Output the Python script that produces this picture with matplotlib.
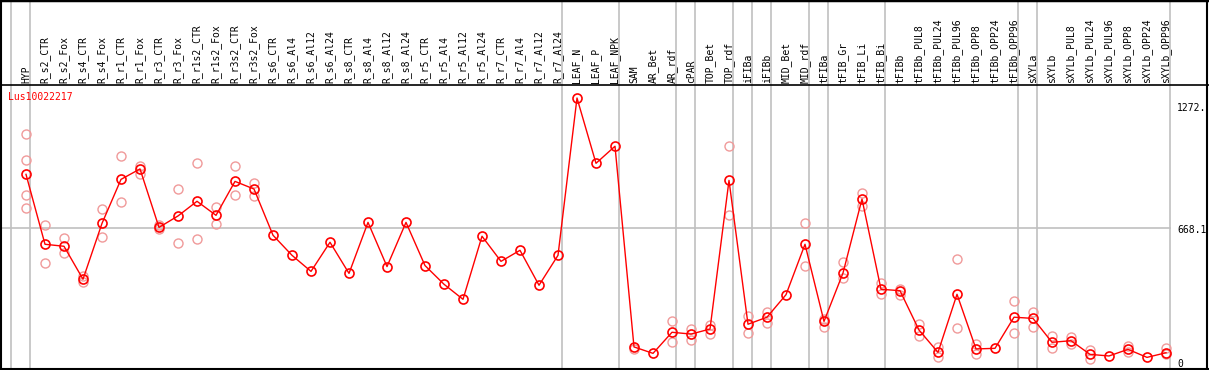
import matplotlib
matplotlib.use("Agg")
import matplotlib.pyplot as plt

# sample names along the top
samples = ["HYP", "R_s2_CTR", "R_s2_Fox", "R_s4_CTR", "R_s4_Fox", "R_r1_CTR", "R_r1_Fox",
           "R_r3_CTR", "R_r3_Fox", "R_r1s2_CTR", "R_r1s2_Fox", "R_r3s2_CTR", "R_r3s2_Fox",
           "R_s6_CTR", "R_s6_Al4", "R_s6_Al12", "R_s6_Al24", "R_s8_CTR", "R_s8_Al4",
           "R_s8_Al12", "R_s8_Al24", "R_r5_CTR", "R_r5_Al4", "R_r5_Al12", "R_r5_Al24",
           "R_r7_CTR", "R_r7_Al4", "R_r7_Al12", "R_r7_Al24", "LEAF_N", "LEAF_P", "LEAF_NPK",
           "SAM", "AR_Bet", "AR_rdf", "cPAR", "TOP_Bet", "TOP_rdf", "iFIBa", "iFIBb",
           "MID_Bet", "MID_rdf", "tFIBa", "tFIB_Gr", "tFIB_Li", "tFIB_Bi", "tFIBb",
           "tFIBb_PUL8", "tFIBb_PUL24", "tFIBb_PUL96", "tFIBb_OPP8", "tFIBb_OPP24",
           "tFIBb_OPP96", "sXYLa", "sXYLb", "sXYLb_PUL8", "sXYLb_PUL24", "sXYLb_PUL96",
           "sXYLb_OPP8", "sXYLb_OPP24", "sXYLb_OPP96"]

# mean expression per sample
means = [935, 587, 577, 413, 691, 910, 962, 671, 728, 801, 731, 900, 862,
         632, 532, 452, 597, 442, 696, 476, 696,
         481, 388, 313, 627, 502, 557, 383, 532,
         1315, 990, 1075,
         76, 44, 149, 140, 165, 905, 189, 224, 336, 587,
         203, 444, 812, 363, 356, 160, 49, 338, 66, 69, 224,
         218, 99, 107, 39, 31, 64, 24, 47]

# individual replicates (where they show apart from the mean)
replicates = [
    [1134, 1005, 831, 766], [681, 494], [618, 542], [429, 399], [761, 622],
    [1025, 796], [977, 937], [683, 661], [862, 592], [990, 612], [772, 689],
    [975, 831], [890, 829],
    [], [], [], [], [], [], [], [],
    [], [], [], [], [], [], [], [],
    [], [], [],
    [64], [], [205, 99], [167, 110], [184, 142], [1075, 734], [228, 144],
    [251, 194], [], [691, 477],
    [217, 177], [497, 418], [841, 776], [393, 341], [366, 336], [189, 132],
    [77, 27], [514, 170], [91, 41], [], [305, 145],
    [251, 174], [130, 71], [124, 91], [62, 17], [], [82, 49], [], [69, 41],
]

# last sample index of each group (vertical separators)
group_ends = [-1, 0, 28, 31, 34, 35, 37, 38, 39, 41, 42, 45, 52, 53, 60]
ytick_vals = [1272, 668.1, 0]
ytick_text = ["1272.", "668.1", "0"]
gene = "Lus10022217"

W, H = 1209, 370
fig = plt.figure(figsize=(W / 100, H / 100), dpi=100)
ax = fig.add_axes([0, 0, 1, 1])
ax.set_axis_off()

# pixel mapping: sample i at 26 + 19 i px, value 0 at y=362 px, 0.2009 px per unit
x0, dx = 26.0, 19.0
y0, sy = 362.2, 0.2009
ax.set_xlim(-x0 / dx, (W - x0) / dx)
ax.set_ylim((y0 - H) / sy, y0 / sy)

right = group_ends[-1] + 0.22
sep_frac = 1 - 85 / H

for g in group_ends:
    ax.axvline(g + 0.22, color="#c0c0c0", lw=1.2, zorder=1)
ax.plot([ax.get_xlim()[0], right], [ytick_vals[1]] * 2, color="#c0c0c0", lw=1.2, zorder=1)

# frame
ax.axhline(ax.get_ylim()[1], color="black", lw=2.5)
ax.axvline(ax.get_xlim()[0] + 1.5 / dx, color="black", lw=1.5)
ax.axvline(ax.get_xlim()[1] - 2 / dx, color="black", lw=1.5)
ax.axhline(ax.get_ylim()[0] + 1.5 / sy, color="black", lw=1.5)
ax.axhline((y0 - 85) / sy, color="black", lw=1.2)

xs = list(range(len(samples)))
for i, reps in enumerate(replicates):
    if reps:
        ax.plot([i] * len(reps), reps, "o", ms=6.5, mfc="none", mec="#f09a9a", mew=1.0, zorder=2)
ax.plot(xs, means, color="red", lw=1.0, zorder=3)
ax.plot(xs, means, "o", ms=6.5, mfc="none", mec="red", mew=1.2, zorder=4)

for i, s in enumerate(samples):
    ax.text(i, sep_frac + 2 / H, s, rotation=90, ha="center", va="bottom",
            family="DejaVu Sans Mono", fontsize=7, transform=ax.get_xaxis_transform())

for v, t in zip(ytick_vals, ytick_text):
    ax.text(right + 7 / dx, v - 8, t, ha="left", va="center",
            family="DejaVu Sans Mono", fontsize=7)

ax.text(ax.get_xlim()[0] + 8 / dx, (y0 - 97) / sy, gene, color="red", ha="left",
        va="center", family="DejaVu Sans Mono", fontsize=7)

fig.savefig("out.png", dpi=100)
